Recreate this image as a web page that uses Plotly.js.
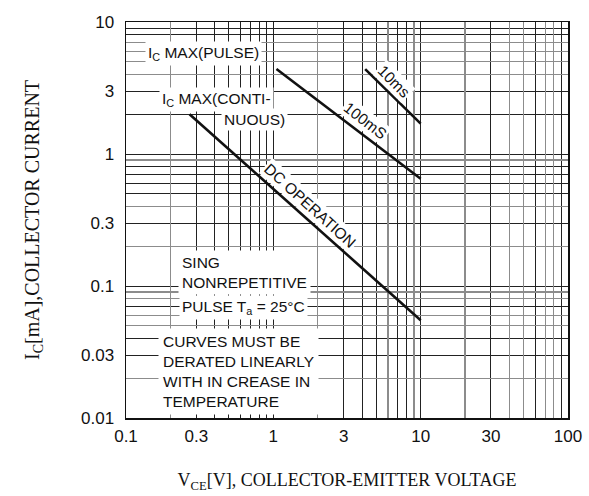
<!DOCTYPE html>
<html>
<head>
<meta charset="utf-8">
<script src="https://cdn.plot.ly/plotly-3.0.1.min.js"></script>
<style>html,body{margin:0;padding:0;background:#fff;}#chart{width:589px;height:496px;}</style>
</head>
<body>
<div id="chart"></div>
<script>
// ---- data ----
const dcV = [0.27, 10];
const dcI = [2.0, 0.055];
const ms100V = [1.05, 10];
const ms100I = [4.4, 0.65];
const ms10V = [4.2, 10];
const ms10I = [4.4, 1.7];

const xTickVals = [0.1, 0.3, 1, 3, 10, 30, 100];
const xTickText = ['0.1', '0.3', '1', '3', '10', '30', '100'];
const yTickVals = [0.01, 0.03, 0.1, 0.3, 1, 3, 10];
const yTickText = ['0.01', '0.03', '0.1', '0.3', '1', '3', '10'];

// grid lines: dark set and gray set
const xDarkGrid = [0.4, 0.5, 0.6, 0.7, 0.8, 0.9, 4, 5, 7, 8, 60, 90];
const xGrayGrid = [0.2, 2, 6, 9, 20, 40, 50, 70, 80];
const yDarkGrid = [0.04, 0.07, 0.5, 0.6, 0.7, 0.8, 2, 8, 9];
const yGrayGrid = [0.02, 0.05, 0.06, 0.08, 0.09, 0.2, 0.4, 0.9, 4, 5, 6, 7];

const black = '#111';
const gridDark = '#222';
const gridGray = '#8c8c8c';
const lineStyle = {color: black, width: 2.6};

const traces = [
  {x: dcV, y: dcI, mode: 'lines', line: lineStyle, hoverinfo: 'skip'},
  {x: ms100V, y: ms100I, mode: 'lines', line: lineStyle, hoverinfo: 'skip'},
  {x: ms10V, y: ms10I, mode: 'lines', line: lineStyle, hoverinfo: 'skip'}
];

const sans = 'Liberation Sans, Arial, sans-serif';
const serif = 'Liberation Serif, Times New Roman, serif';
const txtFont = {family: sans, size: 15.5, color: black};

function ann(text, x, y, opts) {
  return Object.assign({
    text: text, x: x, y: y, xref: 'x', yref: 'y', showarrow: false,
    font: txtFont, bgcolor: '#fff', borderpad: 2, xanchor: 'left', yanchor: 'middle', align: 'left'
  }, opts || {});
}

const annotations = [
  ann('I<sub>C</sub> MAX(PULSE)', -0.873, 0.765),
  ann('I<sub>C</sub> MAX(CONTI-', -0.778, 0.415),
  ann('NUOUS)', -0.355, 0.262),
  ann('10ms', 0.82, 0.55, {xanchor: 'center', textangle: 45, borderpad: 1}),
  ann('100mS', 0.624, 0.256, {xanchor: 'center', textangle: 38, borderpad: 1}),
  ann('DC OPERATION', 0.25, -0.388, {xanchor: 'center', textangle: 42, borderpad: 1}),
  ann('SING<br>NONREPETITIVE', -0.649, -0.897, {borderpad: 3}),
  ann('PULSE T<sub>a</sub> = 25°C', -0.642, -1.163),
  ann('CURVES MUST BE<br>DERATED LINEARLY<br>WITH IN CREASE IN<br>TEMPERATURE', -0.783, -1.644, {borderpad: 4})
];

const layout = {
  width: 589, height: 496,
  margin: {l: 126, r: 21, t: 22, b: 78},
  paper_bgcolor: '#fff', plot_bgcolor: '#fff',
  showlegend: false,
  xaxis: {
    type: 'log', range: [-1, 2], autorange: false,
    tickvals: xTickVals, ticktext: xTickText,
    showgrid: true, gridcolor: gridDark, gridwidth: 1,
    minor: {tickvals: xDarkGrid, showgrid: true, gridcolor: gridDark, gridwidth: 1, ticks: ''},
    showline: true, linecolor: black, linewidth: 1.5, mirror: true,
    ticks: '', ticklabelstandoff: 2, zeroline: false,
    tickfont: {family: sans, size: 17, color: black},
    title: {text: 'V<sub>CE</sub>[V], COLLECTOR-EMITTER VOLTAGE', font: {family: serif, size: 18, color: black}, standoff: 28},
    automargin: false, fixedrange: true
  },
  yaxis: {
    type: 'log', range: [-2, 1], autorange: false,
    tickvals: yTickVals, ticktext: yTickText,
    showgrid: true, gridcolor: gridDark, gridwidth: 1,
    minor: {tickvals: yDarkGrid, showgrid: true, gridcolor: gridDark, gridwidth: 1, ticks: ''},
    showline: true, linecolor: black, linewidth: 1.5, mirror: true,
    ticks: '', ticklabelstandoff: 7, zeroline: false,
    tickfont: {family: sans, size: 17, color: black},
    title: {text: 'I<sub>C</sub>[mA],COLLECTOR CURRENT', font: {family: serif, size: 20, color: black}, standoff: 36},
    automargin: false, fixedrange: true
  },
  xaxis2: {
    type: 'log', range: [-1, 2], autorange: false, overlaying: 'x',
    tickvals: xGrayGrid, showticklabels: false, showgrid: true, gridcolor: gridGray, gridwidth: 1.2,
    ticks: '', zeroline: false, showline: false, fixedrange: true
  },
  yaxis2: {
    type: 'log', range: [-2, 1], autorange: false, overlaying: 'y',
    tickvals: yGrayGrid, showticklabels: false, showgrid: true, gridcolor: gridGray, gridwidth: 1.2,
    ticks: '', zeroline: false, showline: false, fixedrange: true
  },
  annotations: annotations
};

traces.push({x: [1], y: [1], xaxis: 'x2', yaxis: 'y2', mode: 'markers', marker: {opacity: 0}, hoverinfo: 'skip'});

Plotly.newPlot('chart', traces, layout, {displayModeBar: false, staticPlot: true});
</script>
</body>
</html>
